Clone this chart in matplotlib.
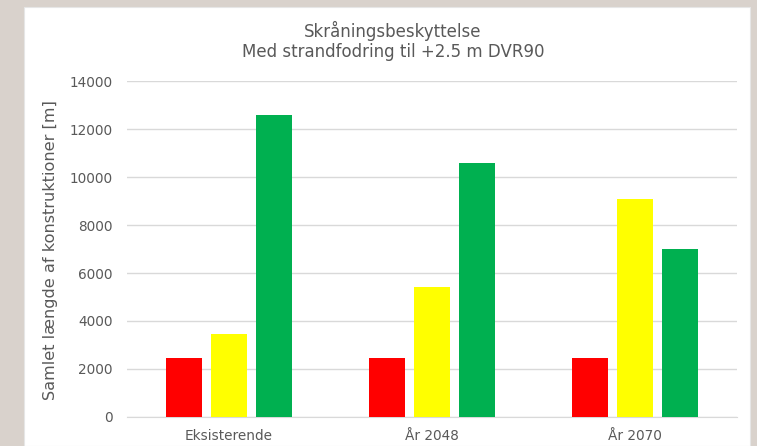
import matplotlib
matplotlib.use("Agg")
import matplotlib.pyplot as plt
import numpy as np
from matplotlib.patches import Rectangle

categories = ["Eksisterende", "År 2048", "År 2070"]
red_vals = [2450, 2450, 2450]
yellow_vals = [3450, 5400, 9100]
green_vals = [12600, 10600, 7000]
yticks = [0, 2000, 4000, 6000, 8000, 10000, 12000, 14000]

text_col = "#595959"
plt.rcParams["font.family"] = ["DejaVu Sans"]

fig = plt.figure(figsize=(7.57, 4.46), dpi=100)
fig.patch.set_facecolor("#d9d2cc")

# white chart panel on the beige page
W, H = 757, 446
fig.add_artist(Rectangle((24 / W, 0), (750 - 24) / W, (H - 7) / H,
                         transform=fig.transFigure, facecolor="white",
                         edgecolor="#e6e6e6", lw=0.8, zorder=0))

ax = fig.add_axes([127 / W, 1 - 417 / H, (737 - 127) / W, (417 - 81) / H])
ax.set_facecolor("none")

x = np.arange(len(categories))
w = 0.177
step = 0.222
ax.bar(x - step, red_vals, w, color="#ff0000", zorder=3)
ax.bar(x, yellow_vals, w, color="#ffff00", zorder=3)
ax.bar(x + step, green_vals, w, color="#00b050", zorder=3)

ax.set_xlim(-0.5, len(categories) - 0.5)
ax.set_ylim(0, 14000)
ax.set_yticks(yticks)
ax.set_yticklabels([str(v) for v in yticks])
ax.set_xticks(x)
ax.set_xticklabels(categories)
ax.grid(axis="y", color="#d9d9d9", lw=1, zorder=0)
for s in ["top", "right", "left"]:
    ax.spines[s].set_visible(False)
ax.spines["bottom"].set_color("#d9d9d9")
ax.tick_params(axis="both", length=0, colors=text_col, labelsize=9.8)
ax.tick_params(axis="y", pad=10.5)
ax.tick_params(axis="x", pad=8.5)

# y label placed in figure pixels so it sits at the panel's left edge
fig.text(50 / W, 1 - 250 / H, "Samlet længde af konstruktioner [m]",
         rotation=90, ha="center", va="center", color=text_col,
         fontsize=11.6)

fig.text(393 / W, 1 - 41 / H, "Skråningsbeskyttelse\nMed strandfodring til +2.5 m DVR90",
         ha="center", va="center", color=text_col, fontsize=12,
         linespacing=1.15)

fig.savefig("out.png", dpi=100, facecolor=fig.get_facecolor())
